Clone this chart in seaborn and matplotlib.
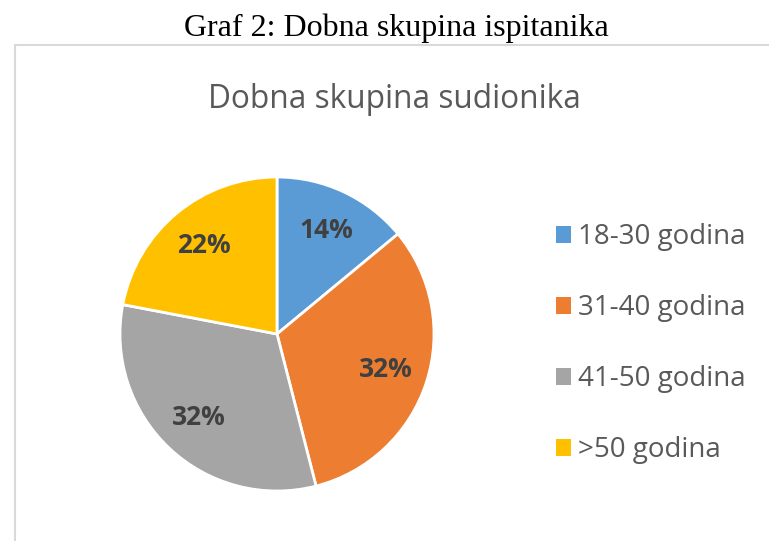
import matplotlib
matplotlib.use("Agg")
import matplotlib.pyplot as plt
import seaborn as sns
from matplotlib.lines import Line2D
from matplotlib.patches import Patch

categories = ["18-30 godina", "31-40 godina", "41-50 godina", ">50 godina"]
values = [14, 32, 32, 22]
colors = ["#5B9BD5", "#ED7D31", "#A5A5A5", "#FFC000"]
outer_title = "Graf 2: Dobna skupina ispitanika"
inner_title = "Dobna skupina sudionika"

sns.set_theme(style="white")
plt.rcParams['font.family'] = ['Open Sans', 'DejaVu Sans']
palette = sns.color_palette(colors)

W, H = 769, 541
fig = plt.figure(figsize=(W / 100, H / 100), dpi=100)
fig.patch.set_facecolor("white")

def fx(px):
    return px / W

def fy(py):
    return 1 - py / H

# chart border
fig.add_artist(Line2D([fx(15), fx(15)], [fy(45), fy(545)], color="#D9D9D9", lw=1.5, transform=fig.transFigure))
fig.add_artist(Line2D([fx(15), fx(775)], [fy(45), fy(45)], color="#D9D9D9", lw=1.5, transform=fig.transFigure))

fig.text(fx(396), fy(28), outer_title, ha="center", va="center",
         fontsize=23, family="Liberation Serif", color="black")
fig.text(fx(394), fy(100), inner_title, ha="center", va="center",
         fontsize=22.8, color="#595959")

cx, cy, r = 277, 334, 157
ax = fig.add_axes([fx(cx - r), fy(cy + r), (2 * r) / W, (2 * r) / H])
wedges, texts, autotexts = ax.pie(
    values, colors=palette, startangle=90, counterclock=False,
    autopct=lambda p: f"{p:.0f}%", pctdistance=0.73,
    wedgeprops=dict(edgecolor="white", linewidth=2),
    textprops=dict(fontsize=19, fontweight="bold", color="#404040"))
ax.set_xlim(-1, 1)
ax.set_ylim(-1, 1)
ax.set_aspect("equal")
ax.axis("off")

handles = [Patch(facecolor=c, edgecolor="none") for c in palette]
fig.legend(handles, categories, loc="upper left",
           bbox_to_anchor=(fx(545), fy(212)), frameon=False,
           fontsize=20, labelcolor="#595959",
           handlelength=0.55, handleheight=0.55, handletextpad=0.25,
           labelspacing=1.55, borderaxespad=0)

fig.savefig("out.png", dpi=100, facecolor="white")
